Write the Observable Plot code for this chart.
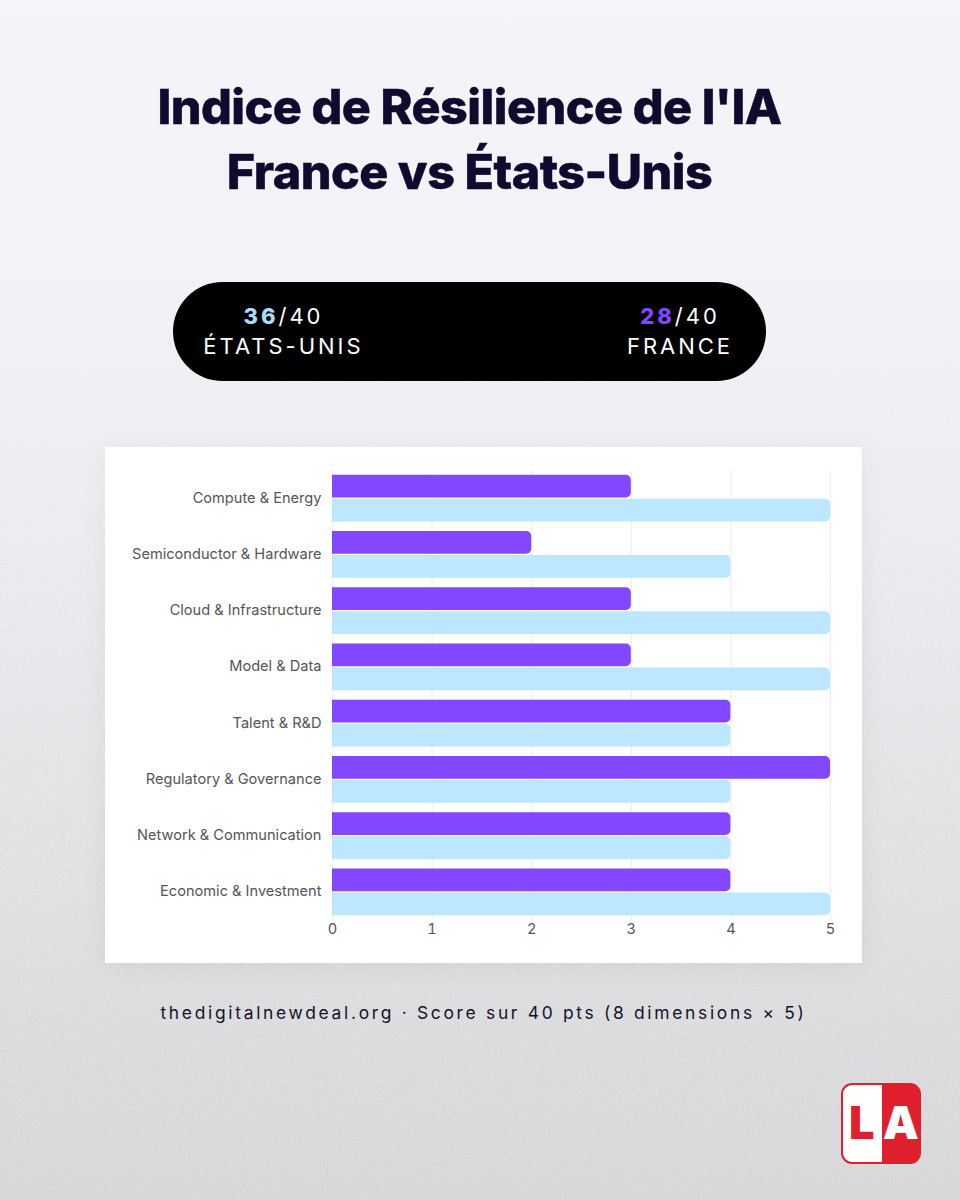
<!DOCTYPE html>
<html lang="fr"><head><meta charset="utf-8">
<script src="https://cdn.jsdelivr.net/npm/d3@7"></script>
<script src="https://cdn.jsdelivr.net/npm/@observablehq/plot@0.6"></script>
<style>
html,body{margin:0;padding:0}
body{width:960px;height:1200px;position:relative;overflow:hidden;font-family:Inter,sans-serif;
background:linear-gradient(180deg,#f3f5f9 0%,#f0f2f6 25%,#eeeff2 42%,#e5e6e8 70%,#dcdcde 100%)}
#noise{left:0;top:0;width:960px;height:1200px;pointer-events:none}
.a{position:absolute}
#title{left:0;width:939px;top:74px;text-align:center;font-weight:800;font-size:48.4px;line-height:65px;color:#0f0a2e;letter-spacing:-.5px;-webkit-text-stroke:.5px #0f0a2e}
#pill{left:173px;top:282px;width:593px;height:99px;border-radius:50px;background:#000;color:#fff}
.sc{position:absolute;text-align:center;font-size:22px;letter-spacing:3px;line-height:30px;font-weight:400}
.sc b{font-weight:800}
#card{left:105px;top:447px;width:757px;height:516px;background:#fff;box-shadow:0 3px 24px rgba(0,0,0,.06)}
#foot{left:0;width:967px;top:1002px;text-align:center;font-size:17.4px;letter-spacing:2.7px;color:#15132e;line-height:22px}
#logo{left:841px;top:1083px;width:76px;height:77px;border:2px solid #e01f2d;border-radius:11px;overflow:hidden;background:linear-gradient(90deg,#fff 0 51%,#e01f2d 51% 100%)}
#logo span{position:absolute;font-weight:900;font-size:45px;line-height:45px;top:15px}
svg{display:block}
</style></head><body>
<svg class="a" id="noise" width="960" height="1200"><filter id="n"><feTurbulence type="fractalNoise" baseFrequency="0.7" numOctaves="2" seed="4"/><feColorMatrix values="0 0 0 0 0.45  0 0 0 0 0.45  0 0 0 0 0.45  0.5 0 0 0 -0.17"/></filter>
<linearGradient id="fade" x1="0" y1="0" x2="0" y2="1"><stop offset="0.25" stop-color="#fff" stop-opacity="0"/><stop offset="0.9" stop-color="#fff" stop-opacity="1"/></linearGradient>
<mask id="m"><rect width="960" height="1200" fill="url(#fade)"/></mask>
<rect width="960" height="1200" filter="url(#n)" mask="url(#m)"/></svg>
<div class="a" id="title"></div>
<div class="a" id="pill"></div>
<div class="a" id="card"></div>
<div class="a" id="foot"></div>
<div class="a" id="logo"></div>
<script>
const titleLines = ["Indice de Résilience de l'IA", "France vs États-Unis"];
const categories = ["Compute & Energy","Semiconductor & Hardware","Cloud & Infrastructure","Model & Data","Talent & R&D","Regulatory & Governance","Network & Communication","Economic & Investment"];
const franceValues = [3,2,3,3,4,5,4,4];
const usaValues = [5,4,5,5,4,4,4,5];
const seriesNames = ["France","États-Unis"];
const seriesColors = ["#8247ff","#bde6ff"];
const scoreColors = ["#8247ff","#a9dcf7"];
const xTicks = [0,1,2,3,4,5];
const scoreMax = 40;
const footer = "thedigitalnewdeal.org · Score sur 40 pts (8 dimensions × 5)";

document.getElementById("title").innerHTML = titleLines.join("<br>");
document.getElementById("foot").textContent = footer;
const pill = document.getElementById("pill");
const total = a => d3.sum(a);
pill.innerHTML =
 `<div class="sc" style="left:0;width:221px;top:19px"><b style="color:${scoreColors[1]}">${total(usaValues)}</b>/${scoreMax}<br>ÉTATS-UNIS</div>`+
 `<div class="sc" style="left:421px;width:172px;top:19px"><b style="color:${scoreColors[0]}">${total(franceValues)}</b>/${scoreMax}<br>FRANCE</div>`;
document.getElementById("logo").innerHTML = `<span style="left:6px;color:#e01f2d">L</span><span style="left:40px;color:#fff">A</span>`;

const rows = categories.flatMap((c,i)=>[
  {category:c,series:seriesNames[0],value:franceValues[i]},
  {category:c,series:seriesNames[1],value:usaValues[i]}
]);
const chart = Plot.plot({
  width:757,height:516,marginLeft:227,marginRight:32,marginTop:23,marginBottom:43,
  style:{fontFamily:"Inter, sans-serif",fontSize:"14.6px",color:"#555",background:"transparent"},
  x:{domain:[0,5],ticks:xTicks,tickFormat:"d",label:null,tickSize:0,tickPadding:3,grid:false},
  y:{domain:seriesNames,axis:null,paddingInner:0.06,paddingOuter:0.2,round:false},
  fy:{domain:categories,padding:0,round:false,axis:null},
  color:{domain:seriesNames,range:seriesColors},
  marks:[
    Plot.ruleX(xTicks,{stroke:"#ececef",strokeWidth:1}),
    Plot.barX(rows,{x:"value",y:"series",fy:"category",fill:"series",rx2:5}),
    Plot.axisFy({anchor:"left",tickSize:0,tickPadding:11,label:null,dy:-0.8})
  ]
});
document.getElementById("card").appendChild(chart);
</script>
</body></html>
